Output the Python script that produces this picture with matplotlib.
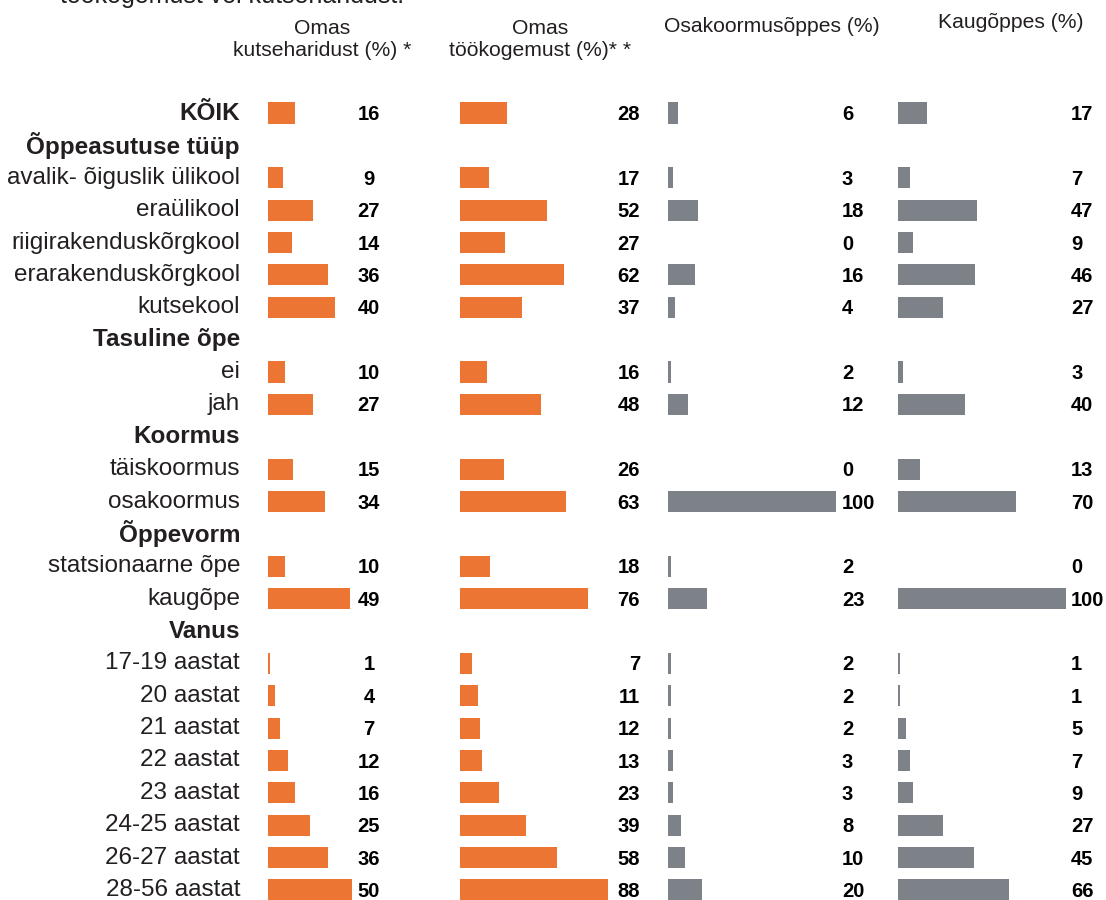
import matplotlib.pyplot as plt
import numpy as np

plt.rcParams['font.family'] = ['Liberation Sans', 'DejaVu Sans']

# ===============================
# Data
# ===============================
row_labels = [
    "KÕIK", "Õppeasutuse tüüp", "avalik- õiguslik ülikool", "eraülikool",
    "riigirakenduskõrgkool", "erarakenduskõrgkool", "kutsekool",
    "Tasuline õpe", "ei", "jah",
    "Koormus", "täiskoormus", "osakoormus",
    "Õppevorm", "statsionaarne õpe", "kaugõpe",
    "Vanus", "17-19 aastat", "20 aastat", "21 aastat", "22 aastat",
    "23 aastat", "24-25 aastat", "26-27 aastat", "28-56 aastat",
]
bold_rows = ["KÕIK", "Õppeasutuse tüüp", "Tasuline õpe", "Koormus", "Õppevorm", "Vanus"]

kutseharidus = [16, None, 9, 27, 14, 36, 40, None, 10, 27, None, 15, 34, None, 10, 49,
                None, 1, 4, 7, 12, 16, 25, 36, 50]
tookogemus = [28, None, 17, 52, 27, 62, 37, None, 16, 48, None, 26, 63, None, 18, 76,
              None, 7, 11, 12, 13, 23, 39, 58, 88]
osakoormus = [6, None, 3, 18, 0, 16, 4, None, 2, 12, None, 0, 100, None, 2, 23,
              None, 2, 2, 2, 3, 3, 8, 10, 20]
kaugope = [17, None, 7, 47, 9, 46, 27, None, 3, 40, None, 13, 70, None, 0, 100,
           None, 1, 1, 5, 7, 9, 27, 45, 66]

col_titles = ["Omas\nkutseharidust (%) *", "Omas\ntöökogemust (%)* *",
              "Osakoormusõppes (%)", "Kaugõppes (%)"]
title_cut = "töökogemust või kutseharidust."

ORANGE = "#ED7534"
GRAY = "#7D8188"

# ===============================
# Layout (pixels)
# ===============================
W, H = 1106, 900
row0, step = 113, 32.375
ylim = ((H - row0) / step, (0 - row0) / step)   # inverted: top row at top

fig = plt.figure(figsize=(W / 100, H / 100), dpi=100)

# background axes for labels: x in pixels, y in row units
bg = fig.add_axes([0, 0, 1, 1])
bg.set_xlim(0, W)
bg.set_ylim(*ylim)
bg.axis("off")

for i, lab in enumerate(row_labels):
    bold = lab in bold_rows
    bg.text(240, i, lab, ha="right", va="center", fontsize=17.5,
            fontweight="bold" if bold else "normal", color="#231f20")

# panels: (values, colour, left px, value text x, value ha, title x, title y)
panels = [
    (kutseharidus, ORANGE, 268, 369, "center", 322, 39),
    (tookogemus, ORANGE, 460, 640, "right", 540, 39),
    (osakoormus, GRAY, 668, 842, "left", 772, 27),
    (kaugope, GRAY, 898, 1071, "left", 1011, 23),
]
px_per_unit = 1.68

for (vals, color, left, vx, vha, tx, ty), title in zip(panels, col_titles):
    ax = fig.add_axes([left / W, 0, 100 * px_per_unit / W, 1])
    ax.set_xlim(0, 100)
    ax.set_ylim(*ylim)
    ax.axis("off")
    idx = [i for i, v in enumerate(vals) if v is not None]
    ax.barh(idx, [vals[i] for i in idx], height=0.65, color=color, edgecolor="none")
    for i in idx:
        bg.text(vx, i + 0.05, str(vals[i]), ha=vha, va="center", fontsize=14.5,
                fontweight="bold", color="black")
    fig.text(tx / W, 1 - ty / H, title, ha="center", va="center", fontsize=15.2,
             color="#231f20", linespacing=1.2, multialignment="center")

# title line cut off at the top edge (as in the source)
fig.text(60 / W, 1 - 3 / H, title_cut, ha="left", va="baseline", fontsize=18,
         color="#231f20")

fig.savefig("out.png", dpi=100, facecolor="white")
